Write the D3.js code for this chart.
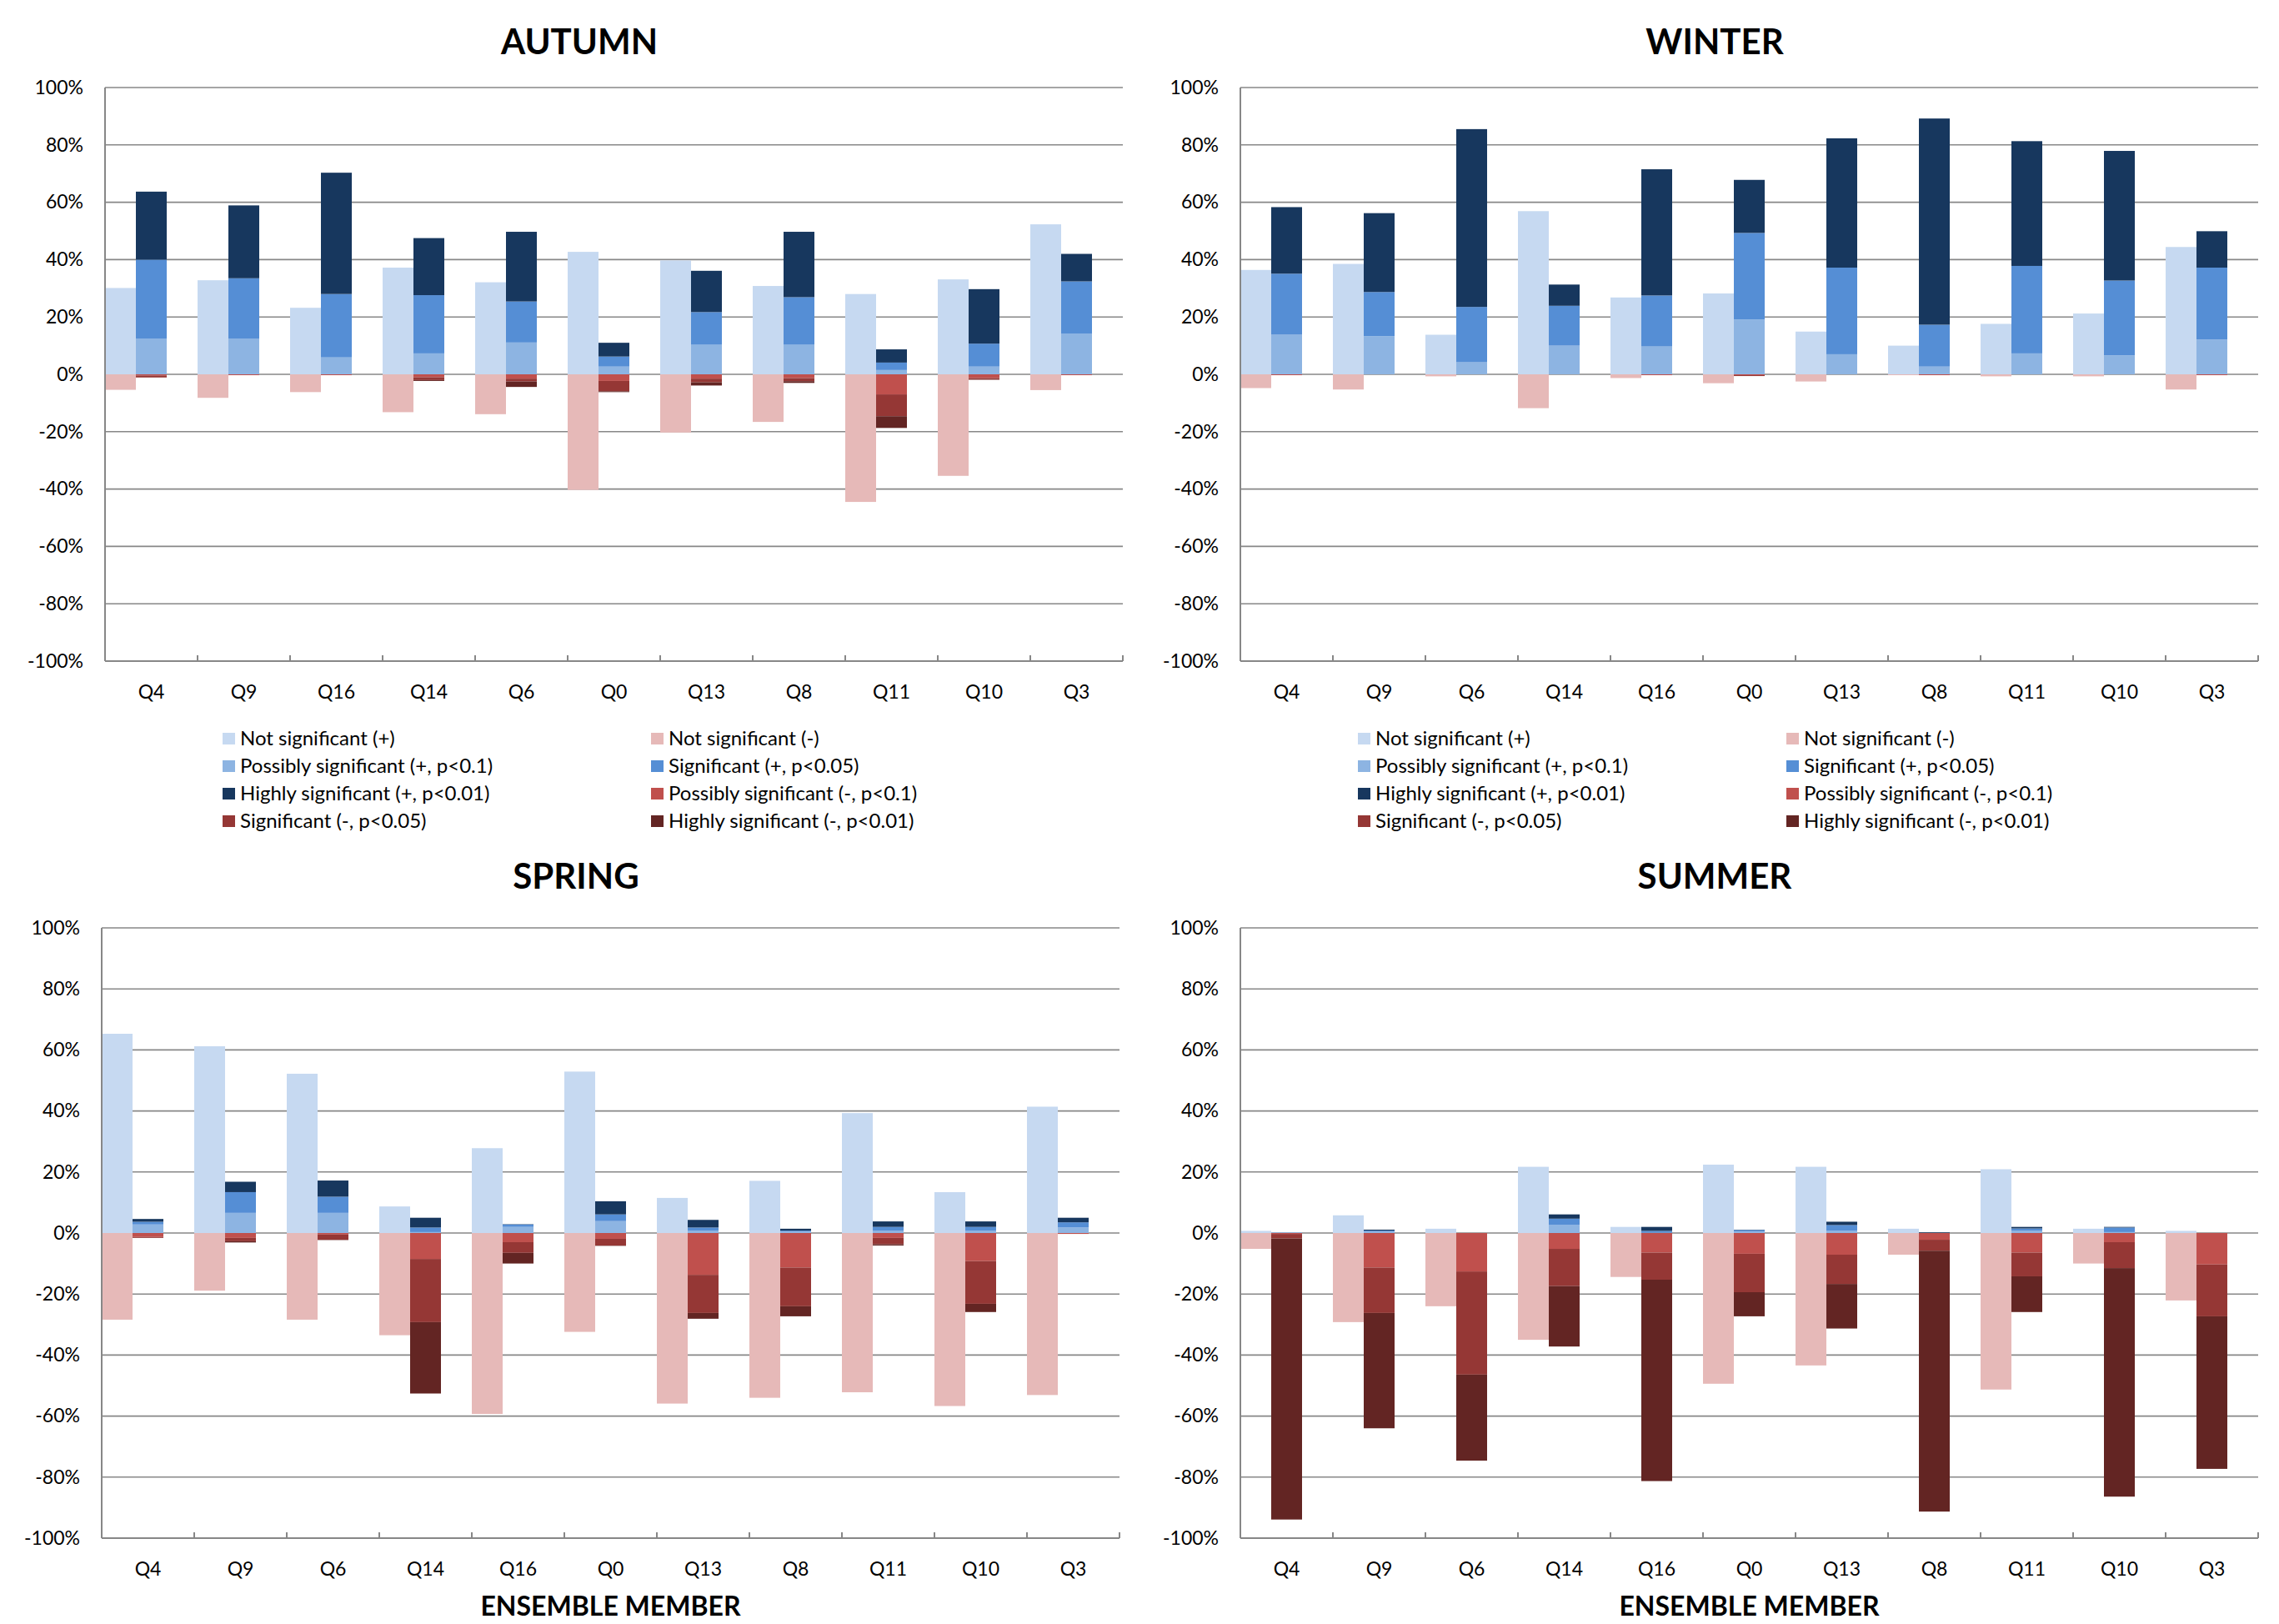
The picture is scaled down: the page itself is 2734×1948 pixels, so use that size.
<!DOCTYPE html>
<html>
<head>
<meta charset="utf-8">
<script src="https://cdn.jsdelivr.net/npm/d3@7"></script>
<style>
  body { margin: 0; background: #fff; }
  svg text { font-family: Lato, "Open Sans", sans-serif; fill: #000; }
</style>
</head>
<body>
<div id="chart"></div>
<script>
// ensemble members, in plotted order
const autumnMembers = ['Q4', 'Q9', 'Q16', 'Q14', 'Q6', 'Q0', 'Q13', 'Q8', 'Q11', 'Q10', 'Q3'];
const winterMembers = ['Q4', 'Q9', 'Q6', 'Q14', 'Q16', 'Q0', 'Q13', 'Q8', 'Q11', 'Q10', 'Q3'];
const springMembers = ['Q4', 'Q9', 'Q6', 'Q14', 'Q16', 'Q0', 'Q13', 'Q8', 'Q11', 'Q10', 'Q3'];
const summerMembers = ['Q4', 'Q9', 'Q6', 'Q14', 'Q16', 'Q0', 'Q13', 'Q8', 'Q11', 'Q10', 'Q3'];

const yTicks = [-100, -80, -60, -40, -20, 0, 20, 40, 60, 80, 100];

// autumn (%)
const autumnNsPos   = [30.1, 32.8, 23.2, 37.2, 32.1, 42.7, 39.7, 30.8, 28.0, 33.1, 52.3];
const autumnNsNeg   = [-5.4, -8.2, -6.2, -13.2, -13.9, -40.3, -20.3, -16.6, -44.5, -35.4, -5.5];
const autumnPossPos = [12.5, 12.5, 5.9, 7.3, 11.1, 2.7, 10.3, 10.3, 1.5, 2.7, 14.1];
const autumnSigPos  = [27.5, 21.0, 22.1, 20.3, 14.3, 3.5, 11.4, 16.6, 2.6, 8.0, 18.3];
const autumnHighPos = [23.7, 25.4, 42.3, 19.9, 24.3, 4.8, 14.4, 22.8, 4.6, 19.0, 9.6];
const autumnPossNeg = [-0.4, -0.3, -0.3, -1.0, -1.5, -2.3, -1.5, -1.3, -7.0, -1.3, -0.3];
const autumnSigNeg  = [-0.7, 0, 0, -1.0, -1.0, -3.6, -1.3, -1.1, -7.6, -0.5, 0];
const autumnHighNeg = [0, 0, 0, -0.3, -1.9, -0.3, -1.1, -0.6, -4.1, -0.1, 0];

// winter (%)
const winterNsPos   = [36.4, 38.5, 13.8, 56.9, 26.8, 28.2, 14.9, 10.0, 17.6, 21.2, 44.4];
const winterNsNeg   = [-4.8, -5.3, -0.7, -11.8, -1.3, -3.1, -2.5, -0.3, -0.7, -0.7, -5.3];
const winterPossPos = [13.8, 13.3, 4.2, 10.0, 9.7, 19.1, 7.0, 2.7, 7.3, 6.6, 12.1];
const winterSigPos  = [21.3, 15.4, 19.3, 13.9, 17.8, 30.2, 30.2, 14.6, 30.5, 26.1, 25.1];
const winterHighPos = [23.2, 27.5, 62.0, 7.4, 44.0, 18.5, 45.1, 71.9, 43.5, 45.2, 12.7];
const winterPossNeg = [-0.3, 0, 0, 0, -0.3, -0.3, 0, -0.3, 0, 0, -0.3];
const winterSigNeg  = [0, 0, 0, 0, 0, -0.3, 0, 0, 0, 0, 0];
const winterHighNeg = [0, 0, 0, 0, 0, 0, 0, 0, 0, 0, 0];

// spring (%)
const springNsPos   = [65.3, 61.2, 52.2, 8.7, 27.8, 52.9, 11.5, 17.1, 39.3, 13.4, 41.4];
const springNsNeg   = [-28.4, -18.9, -28.4, -33.5, -59.3, -32.4, -55.9, -54.0, -52.2, -56.7, -53.1];
const springPossPos = [2.8, 6.6, 6.6, 0.3, 2.0, 3.9, 0.8, 0.5, 0.8, 0.8, 1.8];
const springSigPos  = [0.9, 6.8, 5.3, 1.5, 0.8, 2.2, 1.0, 0.3, 1.2, 1.2, 1.7];
const springHighPos = [0.9, 3.4, 5.3, 3.2, 0.1, 4.3, 2.5, 0.6, 1.8, 1.8, 1.5];
const springPossNeg = [-1.3, -1.6, -0.5, -8.5, -3.0, -1.9, -13.7, -11.3, -1.6, -9.2, -0.3];
const springSigNeg  = [-0.3, -1.1, -1.7, -20.7, -3.5, -2.2, -12.5, -12.7, -2.1, -14.0, 0];
const springHighNeg = [0, -0.4, -0.1, -23.4, -3.5, -0.1, -1.9, -3.3, -0.4, -2.7, 0];

// summer (%)
const summerNsPos   = [0.7, 5.8, 1.4, 21.7, 2.0, 22.4, 21.7, 1.4, 20.9, 1.4, 0.7];
const summerNsNeg   = [-5.2, -29.2, -24.0, -35.0, -14.4, -49.4, -43.4, -7.1, -51.3, -10.0, -22.1];
const summerPossPos = [0.2, 0.5, 0, 2.6, 0.1, 0.5, 0.7, 0, 0.8, 0.3, 0];
const summerSigPos  = [0, 0.3, 0, 2.1, 0.6, 0.5, 1.9, 0, 0.7, 1.5, 0];
const summerHighPos = [0, 0.3, 0, 1.4, 1.3, 0.1, 1.1, 0.2, 0.5, 0.2, 0];
const summerPossNeg = [-0.3, -11.3, -12.6, -5.2, -6.4, -6.8, -7.1, -2.2, -6.4, -3.0, -10.3];
const summerSigNeg  = [-1.5, -14.9, -33.8, -12.2, -8.9, -12.6, -9.6, -3.6, -7.8, -8.5, -17.0];
const summerHighNeg = [-92.1, -37.8, -28.2, -19.8, -66.0, -7.9, -14.6, -85.5, -11.7, -74.9, -50.0];

// legend (Excel row-major order, two columns)
const legendKeys = ['nsPos', 'nsNeg', 'possPos', 'sigPos', 'highPos', 'possNeg', 'sigNeg', 'highNeg'];
const legendLabels = ['Not significant (+)', 'Not significant (-)',
    'Possibly significant (+, p<0.1)', 'Significant (+, p<0.05)',
    'Highly significant (+, p<0.01)', 'Possibly significant (-, p<0.1)',
    'Significant (-, p<0.05)', 'Highly significant (-, p<0.01)'];

const colors = {
    nsPos: '#C6D9F1', nsNeg: '#E6B9B8',
    possPos: '#8DB4E2', sigPos: '#558ED5', highPos: '#17375E',
    possNeg: '#C0504D', sigNeg: '#953735', highNeg: '#632523'
};

const W = 2734, H = 1948;
const svg = d3.select('#chart').append('svg')
    .attr('width', W)
    .attr('height', H);

function buildRows(members, s) {
    return members.map((m, i) => ({
        member: m,
        nsPos: s.nsPos[i], nsNeg: s.nsNeg[i],
        possPos: s.possPos[i], sigPos: s.sigPos[i], highPos: s.highPos[i],
        possNeg: s.possNeg[i], sigNeg: s.sigNeg[i], highNeg: s.highNeg[i]
    }));
}

function drawPanel(cfg) {
    const plotW = 1221;
    const g = svg.append('g');

    const xScale = d3.scaleBand()
        .domain(cfg.members)
        .range([cfg.left, cfg.left + plotW]);
    const yScale = d3.scaleLinear()
        .domain([-100, 100])
        .range([cfg.bottom, cfg.top]);
    const bw = xScale.bandwidth() / 3;

    // gridlines
    g.append('g').selectAll('line')
        .data(yTicks)
        .enter().append('line')
        .attr('x1', cfg.left).attr('x2', cfg.left + plotW)
        .attr('y1', d => yScale(d)).attr('y2', d => yScale(d))
        .attr('stroke', '#878787')
        .attr('stroke-width', 1.6);

    const rows = buildRows(cfg.members, cfg.series);

    // left bar: not significant
    const nsSeries = d3.stack()
        .keys(['nsPos', 'nsNeg'])
        .offset(d3.stackOffsetDiverging)(rows);
    // right bar: significance levels
    const sigSeries = d3.stack()
        .keys(['possPos', 'sigPos', 'highPos', 'possNeg', 'sigNeg', 'highNeg'])
        .offset(d3.stackOffsetDiverging)(rows);

    [[nsSeries, 0], [sigSeries, 1]].forEach(([series, slot]) => {
        g.append('g').selectAll('g')
            .data(series)
            .enter().append('g')
            .attr('fill', d => colors[d.key])
            .selectAll('rect')
            .data(d => d)
            .enter().append('rect')
            .attr('x', d => xScale(d.data.member) + slot * bw)
            .attr('width', bw)
            .attr('y', d => yScale(Math.max(d[0], d[1])))
            .attr('height', d => Math.abs(yScale(d[0]) - yScale(d[1])));
    });

    // axes lines
    g.append('line')
        .attr('x1', cfg.left).attr('x2', cfg.left)
        .attr('y1', cfg.top).attr('y2', cfg.bottom)
        .attr('stroke', '#878787').attr('stroke-width', 2);
    g.append('line')
        .attr('x1', cfg.left).attr('x2', cfg.left + plotW)
        .attr('y1', cfg.bottom).attr('y2', cfg.bottom)
        .attr('stroke', '#878787').attr('stroke-width', 2);
    g.append('g').selectAll('line')
        .data(d3.range(1, cfg.members.length + 1))
        .enter().append('line')
        .attr('x1', i => cfg.left + i * xScale.step())
        .attr('x2', i => cfg.left + i * xScale.step())
        .attr('y1', cfg.bottom).attr('y2', cfg.bottom - 7)
        .attr('stroke', '#878787').attr('stroke-width', 2);

    const yAxis = d3.axisLeft(yScale)
        .tickValues(yTicks)
        .tickSize(0)
        .tickPadding(26)
        .tickFormat(d => d + '%');
    const yg = g.append('g')
        .attr('transform', 'translate(' + cfg.left + ',0)')
        .call(yAxis);
    yg.select('.domain').remove();
    yg.selectAll('text').attr('font-size', 23).attr('font-family', 'Lato');

    const xAxis = d3.axisBottom(xScale)
        .tickSize(0)
        .tickPadding(29);
    const xg = g.append('g')
        .attr('transform', 'translate(0,' + cfg.bottom + ')')
        .call(xAxis);
    xg.select('.domain').remove();
    xg.selectAll('text').attr('font-size', 23).attr('font-family', 'Lato');

    // title
    g.append('text')
        .attr('x', cfg.left + 569)
        .attr('y', cfg.titleY)
        .attr('text-anchor', 'middle')
        .attr('font-size', 42)
        .attr('font-weight', 'bold')
        .text(cfg.title);

    if (cfg.legend) {
        const lg = g.append('g')
            .attr('transform', 'translate(' + (cfg.left + 141) + ',' + 886 + ')');
        const items = lg.selectAll('g')
            .data(legendKeys)
            .enter().append('g')
            .attr('transform', (d, i) => 'translate(' + (i % 2) * 514 + ',' + Math.floor(i / 2) * 33 + ')');
        items.append('rect')
            .attr('x', 0).attr('y', -7)
            .attr('width', 15).attr('height', 14)
            .attr('fill', d => colors[d]);
        items.append('text')
            .attr('x', 21).attr('y', 8)
            .attr('font-size', 24)
            .text((d, i) => legendLabels[i]);
    }

    if (cfg.xTitle) {
        g.append('text')
            .attr('x', cfg.left + plotW / 2)
            .attr('y', 1938)
            .attr('text-anchor', 'middle')
            .attr('font-size', 32)
            .attr('font-weight', 'bold')
            .text('ENSEMBLE MEMBER');
    }
}

drawPanel({
    title: 'AUTUMN', members: autumnMembers, left: 126, top: 105, bottom: 793, titleY: 65, legend: true,
    series: {nsPos: autumnNsPos, nsNeg: autumnNsNeg, possPos: autumnPossPos, sigPos: autumnSigPos,
        highPos: autumnHighPos, possNeg: autumnPossNeg, sigNeg: autumnSigNeg, highNeg: autumnHighNeg}
});
drawPanel({
    title: 'WINTER', members: winterMembers, left: 1488, top: 105, bottom: 793, titleY: 65, legend: true,
    series: {nsPos: winterNsPos, nsNeg: winterNsNeg, possPos: winterPossPos, sigPos: winterSigPos,
        highPos: winterHighPos, possNeg: winterPossNeg, sigNeg: winterSigNeg, highNeg: winterHighNeg}
});
drawPanel({
    title: 'SPRING', members: springMembers, left: 122, top: 1113, bottom: 1845, titleY: 1066, xTitle: true,
    series: {nsPos: springNsPos, nsNeg: springNsNeg, possPos: springPossPos, sigPos: springSigPos,
        highPos: springHighPos, possNeg: springPossNeg, sigNeg: springSigNeg, highNeg: springHighNeg}
});
drawPanel({
    title: 'SUMMER', members: summerMembers, left: 1488, top: 1113, bottom: 1845, titleY: 1066, xTitle: true,
    series: {nsPos: summerNsPos, nsNeg: summerNsNeg, possPos: summerPossPos, sigPos: summerSigPos,
        highPos: summerHighPos, possNeg: summerPossNeg, sigNeg: summerSigNeg, highNeg: summerHighNeg}
});
</script>
</body>
</html>
